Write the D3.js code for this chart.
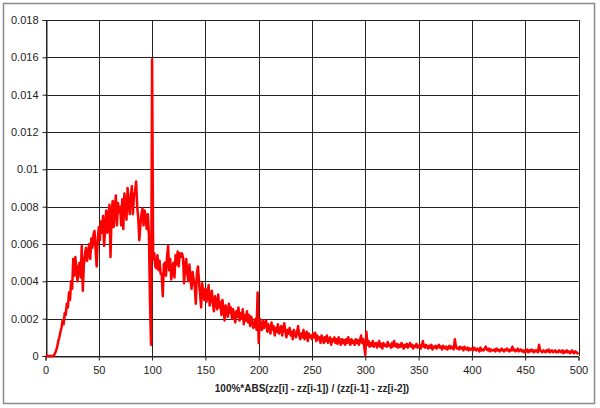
<!DOCTYPE html>
<html>
<head>
<meta charset="utf-8">
<script src="https://cdn.jsdelivr.net/npm/d3@7"></script>
<style>
  body { margin: 0; background: #fff; }
  svg text { font-family: "Liberation Sans", Arial, sans-serif; }
</style>
</head>
<body>
<svg id="canvas"></svg>
<script>
// frequency for each x step of 1, in thousandths (0.001)
let freq = [
  0, 0, 0, 0, 0, 0, 0, 0, 0.05, 0.15,
  0.3, 0.5, 0.8, 1.0, 1.3, 1.5, 1.9, 1.7, 2.3, 2.2,
  2.8, 2.6, 3.4, 3.0, 4.0, 3.6, 5.2, 4.3, 5.3, 4.6,
  4.0, 4.8, 5.0, 4.2, 5.9, 3.5, 4.9, 5.4, 5.8, 5.1,
  5.5, 6.0, 5.2, 6.3, 5.8, 6.5, 6.7, 5.7, 4.8, 6.2,
  6.9, 6.2, 7.2, 6.6, 7.5, 5.9, 7.0, 7.8, 6.6, 7.4,
  8.1, 5.3, 7.6, 8.3, 6.9, 7.9, 8.6, 7.0, 8.2, 7.7,
  8.0, 7.0, 8.4, 6.8, 8.7, 8.1, 7.3, 9.0, 8.3, 7.6,
  8.5, 9.1, 7.6, 8.6, 8.8, 9.35, 8.0, 7.4, 6.2, 7.0,
  7.6, 7.9, 7.0, 7.8, 7.4, 6.8, 7.6, 6.5, 3.0, 0.6,
  15.9, 5.2, 5.5, 4.8, 4.7, 5.4, 4.6, 5.1, 4.4, 4.4,
  3.2, 4.9, 5.0, 4.3, 5.3, 5.9, 4.6, 5.2, 4.1, 4.6,
  5.0, 4.2, 5.4, 4.9, 5.6, 4.8, 5.5, 5.3, 5.5, 5.3,
  3.9, 4.8, 5.2, 4.4, 4.0, 4.9, 4.2, 3.6, 4.5, 4.1,
  3.7, 2.8, 4.4, 4.8, 4.0, 3.3, 2.6, 3.9, 3.4, 3.0,
  3.6, 2.9, 3.3, 3.8, 2.7, 3.1, 3.5, 2.8, 2.4, 3.2,
  2.9, 2.5, 3.3, 2.6, 2.9, 2.2, 3.0, 2.5, 1.9, 2.7,
  2.4, 2.1, 2.8, 2.3, 2.6, 2.0, 2.5, 2.2, 1.8, 2.4,
  2.1, 2.6, 1.9, 2.3, 2.0, 2.5, 1.7, 2.2, 1.9, 2.4,
  1.8, 2.2, 1.6, 2.1, 1.9, 1.5, 1.6, 2.0, 1.4, 3.4,
  0.7, 2.0, 1.6, 1.4, 1.9, 1.5, 1.8, 1.9, 1.3, 1.7,
  1.5, 1.2, 1.8, 1.4, 1.6, 1.1, 1.5, 1.3, 1.7, 1.2,
  1.4, 1.6, 1.1, 1.5, 1.75, 1.3, 1.0, 1.4, 1.2, 1.5,
  1.1, 1.3, 0.9, 1.4, 1.2, 1.0, 1.3, 1.6, 1.1, 0.9,
  1.2, 1.0, 1.4, 0.9, 1.1, 1.3, 0.8, 1.2, 1.0, 1.1,
  0.9, 1.2, 1.0, 1.25, 0.8, 1.1, 0.9, 1.0, 0.7, 1.1,
  0.9, 0.7, 1.0, 0.8, 1.1, 0.7, 0.9, 1.0, 0.6, 0.9,
  0.8, 1.0, 0.7, 0.9, 0.65, 1.0, 0.8, 0.6, 0.9, 0.7,
  0.85, 0.6, 0.9, 0.7, 1.0, 0.75, 0.6, 0.9, 0.7, 0.8,
  0.6, 0.9, 0.7, 0.85, 0.6, 0.8, 1.1, 0.7, 0.9, 0.5,
  0.05, 1.3, 0.6, 0.8, 0.5, 0.7, 0.55, 0.8, 0.5, 0.65,
  0.7, 0.45, 0.6, 0.8, 0.5, 0.65, 0.4, 0.7, 0.55, 0.6,
  0.5, 0.75, 0.55, 0.6, 0.45, 0.7, 0.5, 0.8, 0.55, 0.5,
  0.65, 0.45, 0.6, 0.5, 0.7, 0.55, 0.4, 0.6, 0.5, 0.65,
  0.45, 0.55, 0.7, 0.5, 0.6, 0.4, 0.55, 0.5, 0.65, 0.45,
  0.5, 0.6, 0.4, 0.55, 0.8, 0.5, 0.45, 0.6, 0.5, 0.4,
  0.55, 0.45, 0.6, 0.35, 0.5, 0.45, 0.55, 0.4, 0.5, 0.6,
  0.45, 0.5, 0.35, 0.55, 0.45, 0.4, 0.5, 0.35, 0.45, 0.55,
  0.4, 0.5, 0.45, 0.35, 0.9, 0.5, 0.4, 0.45, 0.35, 0.5,
  0.4, 0.45, 0.3, 0.5, 0.4, 0.35, 0.45, 0.3, 0.4, 0.35,
  0.4, 0.3, 0.45, 0.35, 0.3, 0.4, 0.35, 0.25, 0.45, 0.3,
  0.35, 0.3, 0.4, 0.5, 0.35, 0.3, 0.4, 0.25, 0.35, 0.3,
  0.3, 0.35, 0.25, 0.4, 0.3, 0.35, 0.25, 0.3, 0.4, 0.3,
  0.25, 0.35, 0.3, 0.4, 0.3, 0.25, 0.35, 0.3, 0.5, 0.3,
  0.35, 0.25, 0.3, 0.4, 0.25, 0.3, 0.35, 0.25, 0.3, 0.2,
  0.3, 0.25, 0.35, 0.2, 0.3, 0.25, 0.35, 0.3, 0.2, 0.3,
  0.25, 0.3, 0.2, 0.6, 0.3, 0.25, 0.2, 0.3, 0.25, 0.2,
  0.3, 0.25, 0.35, 0.2, 0.25, 0.3, 0.2, 0.25, 0.3, 0.2,
  0.25, 0.2, 0.3, 0.25, 0.2, 0.3, 0.15, 0.25, 0.2, 0.3,
  0.2, 0.25, 0.15, 0.2, 0.3, 0.2, 0.15, 0.25, 0.2, 0.15,
  0.1
]
let xTicks = [0, 50, 100, 150, 200, 250, 300, 350, 400, 450, 500]
let yTicks = [0, 0.002, 0.004, 0.006, 0.008, 0.01, 0.012, 0.014, 0.016, 0.018]
let xTitle = '100%*ABS(zz[i] - zz[i-1]) / (zz[i-1] - zz[i-2])'

let width = 600
let height = 408
let plotLeft = 45.5
let plotRight = 578.5
let plotTop = 20
let plotBottom = 356

let canvas = d3.select('#canvas')
  .attr('width', width)
  .attr('height', height)

// outer chart frame
canvas.append('rect')
  .attr('x', 3.5).attr('y', 3.5)
  .attr('width', 591).attr('height', 400)
  .attr('fill', '#fff')
  .attr('stroke', '#8a8a8a')
  .attr('stroke-width', 1.5)

let xScale = d3.scaleLinear().domain([0, 500]).range([plotLeft, plotRight])
let yScale = d3.scaleLinear().domain([0, 0.018]).range([plotBottom, plotTop])

// grid
canvas.append('g')
  .selectAll('line')
  .data(xTicks)
  .enter()
  .append('line')
  .attr('x1', (d) => Math.round(xScale(d)) + 0.5)
  .attr('x2', (d) => Math.round(xScale(d)) + 0.5)
  .attr('y1', plotTop).attr('y2', plotBottom)
  .attr('stroke', '#222')
canvas.append('g')
  .selectAll('line')
  .data(yTicks)
  .enter()
  .append('line')
  .attr('y1', (d) => Math.round(yScale(d)) + 0.5)
  .attr('y2', (d) => Math.round(yScale(d)) + 0.5)
  .attr('x1', plotLeft).attr('x2', plotRight)
  .attr('stroke', '#222')

// axes
let xAxis = d3.axisBottom(xScale)
  .tickValues(xTicks)
  .tickSize(4)
  .tickPadding(6)
  .tickFormat(d3.format('d'))
let yAxis = d3.axisLeft(yScale)
  .tickValues(yTicks)
  .tickSize(4)
  .tickPadding(4)
  .tickFormat((d) => d === 0 ? '0' : String(+d.toFixed(3)))

let gx = canvas.append('g')
  .attr('transform', 'translate(0,' + (Math.round(plotBottom) + 0.5) + ')')
  .call(xAxis)
let gy = canvas.append('g')
  .attr('transform', 'translate(' + (Math.round(plotLeft) + 0.5) + ',0)')
  .call(yAxis)
for (let g of [gx, gy]) {
  g.select('.domain').attr('stroke', '#222')
  g.selectAll('.tick line').attr('stroke', '#222')
  g.selectAll('.tick text')
    .attr('fill', '#222')
    .style('font-size', '11px')
}

// series
let line = d3.line()
  .x((d, i) => xScale(i))
  .y((d) => yScale(d * 0.001))
canvas.append('path')
  .datum(freq)
  .attr('d', line)
  .attr('fill', 'none')
  .attr('stroke', '#f00')
  .attr('stroke-width', 2.5)
  .attr('stroke-linejoin', 'round')

canvas.append('text')
  .attr('x', (plotLeft + plotRight) / 2)
  .attr('y', 392)
  .attr('text-anchor', 'middle')
  .style('font-size', '10px')
  .style('font-weight', 'bold')
  .attr('fill', '#222')
  .text(xTitle)
</script>
</body>
</html>
